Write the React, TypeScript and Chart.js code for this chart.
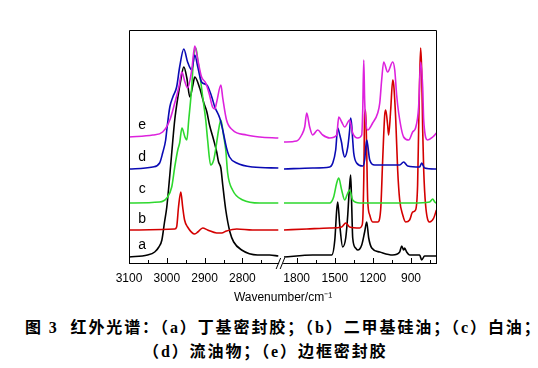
import { useEffect, useRef } from "react";
import { Chart, registerables } from "chart.js";

Chart.register(...registerables);

// ---- broken wavenumber axis (left: C-H stretch region, right: fingerprint region)
const LEFT_START = 3100;
const LEFT_END = 2705;
const RIGHT_START = 1900;
const RIGHT_END = 700;
const LEFT_SCALE = 0.378; // axis units per cm-1 (left part)
const RIGHT_SCALE = 0.127; // axis units per cm-1 (right part)
const RIGHT_OFFSET = 155;
const AXIS_MAX = 308;

const toU = (wn: number) =>
  wn >= 2000 ? (LEFT_START - wn) * LEFT_SCALE : RIGHT_OFFSET + (RIGHT_START - wn) * RIGHT_SCALE;

// ---- tick labels
const MAJOR_TICKS = [3100, 3000, 2900, 2800, 1800, 1500, 1200, 900];
const MINOR_TICKS = [3050, 2950, 2850, 2750, 1650, 1350, 1050, 750];

// ---- spectra: [wavenumber, absorbance (offset, a.u.)]
const A_LEFT: [number, number][] = [
  [3100, 0.06], [3051, 0.08], [3032, 0.11], [3021, 0.16], [3013, 0.23], [3006, 0.41], [3000, 0.56],
  [2992, 0.88], [2984, 1.23], [2979, 1.43], [2971, 1.65], [2963, 1.83], [2955, 1.96], [2947, 1.85],
  [2939, 1.66], [2931, 1.78], [2926, 1.86], [2913, 1.75], [2902, 1.6], [2894, 1.51], [2887, 1.38],
  [2876, 1.23], [2868, 1.11], [2863, 1.01], [2857, 0.95], [2852, 0.78], [2844, 0.53], [2833, 0.31],
  [2823, 0.21], [2802, 0.13], [2760, 0.08], [2728, 0.08], [2705, 0.07],
];
const A_RIGHT: [number, number][] = [
  [1900, 0.06], [1674, 0.08], [1524, 0.08], [1500, 0.23], [1485, 0.53], [1477, 0.61], [1461, 0.38],
  [1438, 0.16], [1414, 0.25], [1398, 0.48], [1391, 0.63], [1383, 0.78], [1375, 0.88], [1367, 0.58],
  [1359, 0.25], [1336, 0.15], [1319, 0.13], [1288, 0.18], [1265, 0.31], [1249, 0.41], [1233, 0.25],
  [1209, 0.15], [1146, 0.11], [1044, 0.08], [989, 0.11], [973, 0.17], [958, 0.13], [950, 0.15],
  [934, 0.11], [911, 0.08], [832, 0.08], [816, 0.03], [793, 0.07], [700, 0.07],
];
const B_LEFT: [number, number][] = [
  [3100, 0.33], [2979, 0.34], [2974, 0.36], [2969, 0.56], [2963, 0.71], [2958, 0.56], [2953, 0.43],
  [2945, 0.36], [2926, 0.29], [2918, 0.31], [2905, 0.35], [2892, 0.33], [2868, 0.3], [2855, 0.3],
  [2842, 0.32], [2815, 0.34], [2773, 0.33], [2705, 0.33],
];
const B_RIGHT: [number, number][] = [
  [1900, 0.33], [1721, 0.34], [1540, 0.35], [1446, 0.36], [1414, 0.4], [1383, 0.36], [1304, 0.35],
  [1288, 0.37], [1280, 0.43], [1272, 0.83], [1265, 1.48], [1257, 1.53], [1249, 1.13], [1241, 0.63],
  [1225, 0.48], [1202, 0.41], [1162, 0.41], [1139, 0.53], [1123, 1.03], [1107, 1.48], [1099, 1.53],
  [1084, 1.38], [1076, 1.28], [1060, 1.53], [1044, 1.83], [1036, 1.78], [1020, 1.43], [1005, 0.93],
  [989, 0.63], [965, 0.48], [942, 0.41], [911, 0.43], [887, 0.51], [864, 0.53], [848, 0.78],
  [840, 1.33], [832, 1.83], [824, 2.15], [816, 1.93], [808, 1.33], [800, 0.93], [785, 0.58],
  [753, 0.41], [721, 0.45], [700, 0.53],
];
const C_LEFT: [number, number][] = [
  [3100, 0.6], [3019, 0.61], [3000, 0.65], [2987, 0.76], [2979, 0.96], [2971, 1.13], [2966, 1.2],
  [2960, 1.35], [2952, 1.26], [2947, 1.23], [2942, 1.43], [2934, 1.76], [2929, 2.06], [2923, 2.15],
  [2918, 2.03], [2913, 1.9], [2905, 1.66], [2897, 1.43], [2892, 1.23], [2884, 0.98], [2876, 1.03],
  [2871, 1.13], [2863, 1.33], [2857, 1.43], [2850, 1.28], [2844, 1.13], [2839, 0.9], [2826, 0.73],
  [2799, 0.63], [2754, 0.6], [2705, 0.6],
];
const C_RIGHT: [number, number][] = [
  [1900, 0.6], [1540, 0.6], [1509, 0.66], [1485, 0.8], [1469, 0.85], [1446, 0.73], [1422, 0.63],
  [1398, 0.7], [1383, 0.73], [1359, 0.63], [1304, 0.6], [1146, 0.6], [887, 0.6], [753, 0.61],
  [729, 0.64], [713, 0.61], [700, 0.6],
];
const D_LEFT: [number, number][] = [
  [3100, 0.94], [3037, 0.96], [3019, 1.0], [3011, 1.1], [3003, 1.23], [3000, 1.33], [2992, 1.56],
  [2984, 1.66], [2974, 1.76], [2966, 1.96], [2955, 2.14], [2945, 2.01], [2934, 1.93], [2926, 2.08],
  [2918, 1.96], [2908, 1.81], [2894, 1.78], [2881, 1.66], [2873, 1.56], [2860, 1.45], [2852, 1.33],
  [2842, 1.15], [2834, 1.06], [2815, 1.0], [2773, 0.96], [2705, 0.95],
];
const D_RIGHT: [number, number][] = [
  [1900, 0.94], [1674, 0.95], [1540, 0.96], [1516, 1.0], [1493, 1.13], [1477, 1.35], [1461, 1.28],
  [1446, 1.2], [1438, 1.13], [1422, 1.06], [1398, 1.16], [1383, 1.33], [1375, 1.45], [1367, 1.38],
  [1359, 1.23], [1351, 1.1], [1328, 1.0], [1280, 0.97], [1265, 1.03], [1249, 1.23], [1241, 1.18],
  [1225, 1.03], [1186, 0.98], [1091, 0.98], [989, 0.98], [958, 1.01], [926, 0.97], [832, 0.96],
  [816, 1.0], [793, 0.95], [700, 0.94],
];
const E_LEFT: [number, number][] = [
  [3100, 1.26], [3037, 1.28], [3011, 1.31], [2992, 1.43], [2979, 1.6], [2968, 1.76], [2960, 1.91],
  [2952, 1.81], [2945, 1.75], [2934, 1.93], [2926, 2.17], [2918, 2.03], [2908, 1.86], [2897, 1.8],
  [2887, 1.68], [2879, 1.56], [2873, 1.54], [2868, 1.61], [2857, 1.78], [2852, 1.65], [2842, 1.43],
  [2826, 1.33], [2789, 1.28], [2754, 1.26], [2705, 1.25],
];
const E_RIGHT: [number, number][] = [
  [1900, 1.21], [1800, 1.22], [1761, 1.28], [1737, 1.36], [1721, 1.5], [1698, 1.36], [1674, 1.28],
  [1635, 1.33], [1595, 1.28], [1540, 1.25], [1485, 1.28], [1469, 1.46], [1446, 1.41], [1422, 1.36],
  [1383, 1.43], [1359, 1.3], [1319, 1.25], [1288, 1.28], [1280, 1.53], [1272, 2.03], [1265, 1.63],
  [1257, 1.43], [1241, 1.33], [1202, 1.4], [1162, 1.5], [1146, 1.6], [1131, 1.83], [1115, 2.01],
  [1084, 1.91], [1044, 2.01], [1028, 1.93], [1013, 1.68], [997, 1.5], [958, 1.26], [918, 1.23],
  [887, 1.31], [864, 1.35], [840, 1.56], [824, 2.01], [808, 1.76], [800, 1.43], [769, 1.23],
  [729, 1.26], [700, 1.3],
];

const SERIES_NAMES = ["e", "d", "c", "b", "a"];
const SERIES_COLORS = ["#DD22DD", "#0A0AB4", "#2ED82E", "#D40000", "#000000"];
const SERIES_LEFT = [E_LEFT, D_LEFT, C_LEFT, B_LEFT, A_LEFT];
const SERIES_RIGHT = [E_RIGHT, D_RIGHT, C_RIGHT, B_RIGHT, A_RIGHT];
const LABEL_WN = 3065;
const LABEL_LEVELS = [1.38, 1.06, 0.74, 0.44, 0.18];

const CAPTION_1 = "图 3  红外光谱：（a）丁基密封胶；（b）二甲基硅油；（c）白油；";
const CAPTION_2 = "（d）流油物；（e）边框密封胶";

const SANS = 'Arial, "Liberation Sans", sans-serif';

const toPoints = (left: [number, number][], right: [number, number][]) => [
  ...left.map(([wn, v]) => ({ x: toU(wn), y: v })),
  { x: (toU(LEFT_END) + RIGHT_OFFSET) / 2, y: null as any },
  ...right.map(([wn, v]) => ({ x: toU(wn), y: v })),
];

const framePlugin = {
  id: "brokenFrame",
  afterDatasetsDraw(chart: any) {
    const { ctx, chartArea, scales } = chart;
    const { left, right, top, bottom } = chartArea;
    const x = scales.x;
    const y = scales.y;
    ctx.save();
    ctx.strokeStyle = "#000";
    ctx.lineWidth = 1;
    // left, top, right borders
    ctx.beginPath();
    ctx.moveTo(left + 0.5, bottom + 0.5);
    ctx.lineTo(left + 0.5, top + 0.5);
    ctx.lineTo(right - 0.5, top + 0.5);
    ctx.lineTo(right - 0.5, bottom + 0.5);
    ctx.stroke();
    // bottom axis with break
    const breakPx = x.getPixelForValue((toU(LEFT_END) + RIGHT_OFFSET) / 2);
    ctx.beginPath();
    ctx.moveTo(left, bottom + 0.5);
    ctx.lineTo(breakPx - 2, bottom + 0.5);
    ctx.moveTo(breakPx + 2, bottom + 0.5);
    ctx.lineTo(right, bottom + 0.5);
    ctx.stroke();
    // break marks //
    ctx.beginPath();
    ctx.moveTo(breakPx - 5, bottom + 6);
    ctx.lineTo(breakPx - 0.5, bottom - 5);
    ctx.moveTo(breakPx - 1, bottom + 6);
    ctx.lineTo(breakPx + 3.5, bottom - 5);
    ctx.stroke();
    // inward ticks
    ctx.beginPath();
    MAJOR_TICKS.forEach((wn) => {
      const px = Math.round(x.getPixelForValue(toU(wn))) + 0.5;
      ctx.moveTo(px, bottom);
      ctx.lineTo(px, bottom - 5);
    });
    MINOR_TICKS.forEach((wn) => {
      const px = Math.round(x.getPixelForValue(toU(wn))) + 0.5;
      ctx.moveTo(px, bottom);
      ctx.lineTo(px, bottom - 3);
    });
    ctx.stroke();
    // series letters
    ctx.fillStyle = "#000";
    ctx.font = `14px ${SANS}`;
    ctx.textAlign = "center";
    ctx.textBaseline = "middle";
    SERIES_NAMES.forEach((name, i) => {
      ctx.fillText(name, x.getPixelForValue(toU(LABEL_WN)), y.getPixelForValue(LABEL_LEVELS[i]));
    });
    ctx.restore();
  },
};

export default function App() {
  const ref = useRef<HTMLCanvasElement>(null);

  useEffect(() => {
    const datasets = SERIES_NAMES.map((name, i) => ({
      label: name,
      data: toPoints(SERIES_LEFT[i], SERIES_RIGHT[i]),
      borderColor: SERIES_COLORS[i],
      backgroundColor: SERIES_COLORS[i],
      borderWidth: 1.6,
      pointRadius: 0,
      cubicInterpolationMode: "monotone",
      spanGaps: false,
      fill: false,
    }));

    const chart = new Chart(ref.current as HTMLCanvasElement, {
      type: "line",
      data: { datasets },
      options: {
        responsive: false,
        animation: false,
        devicePixelRatio: 1,
        parsing: false as any,
        layout: { padding: { left: 129, right: 101, top: 30, bottom: 0 } },
        plugins: { legend: { display: false }, tooltip: { enabled: false } },
        scales: {
          x: {
            type: "linear",
            min: 0,
            max: AXIS_MAX,
            afterFit: (s: any) => {
              s.height = 47;
            },
            afterBuildTicks: (s: any) => {
              s.ticks = MAJOR_TICKS.map((wn) => ({ value: toU(wn) }));
            },
            grid: { display: false, drawTicks: false },
            border: { display: false },
            ticks: {
              autoSkip: false,
              maxRotation: 0,
              minRotation: 0,
              padding: 8,
              color: "#000",
              font: { family: SANS, size: 12 },
              callback: (_v: any, i: number) => String(MAJOR_TICKS[i]),
            },
            title: {
              display: true,
              text: "Wavenumber/cm\u207B\u00B9",
              color: "#000",
              font: { family: SANS, size: 12 },
              padding: { top: 0, bottom: 5 },
            },
          },
          y: { display: false, min: 0, max: 2.33 },
        },
      },
      plugins: [framePlugin],
    } as any);

    return () => chart.destroy();
  }, []);

  const capStyle: any = {
    position: "absolute",
    whiteSpace: "pre",
    fontFamily: '"Liberation Serif", "Noto Sans CJK SC", serif',
    fontWeight: 700,
    fontSize: 16,
    lineHeight: "18px",
    letterSpacing: 1.9,
    color: "#000",
  };

  return (
    <div
      style={{
        position: "fixed",
        left: 0,
        top: 0,
        width: 538,
        height: 368,
        background: "#fff",
        overflow: "hidden",
      }}
    >
      <canvas
        ref={ref}
        width={538}
        height={310}
        style={{ position: "absolute", left: 0, top: 0, width: 538, height: 310 }}
      />
      <div style={{ ...capStyle, left: 25, top: 319 }}>{CAPTION_1}</div>
      <div style={{ ...capStyle, left: 143, top: 343 }}>{CAPTION_2}</div>
    </div>
  );
}
